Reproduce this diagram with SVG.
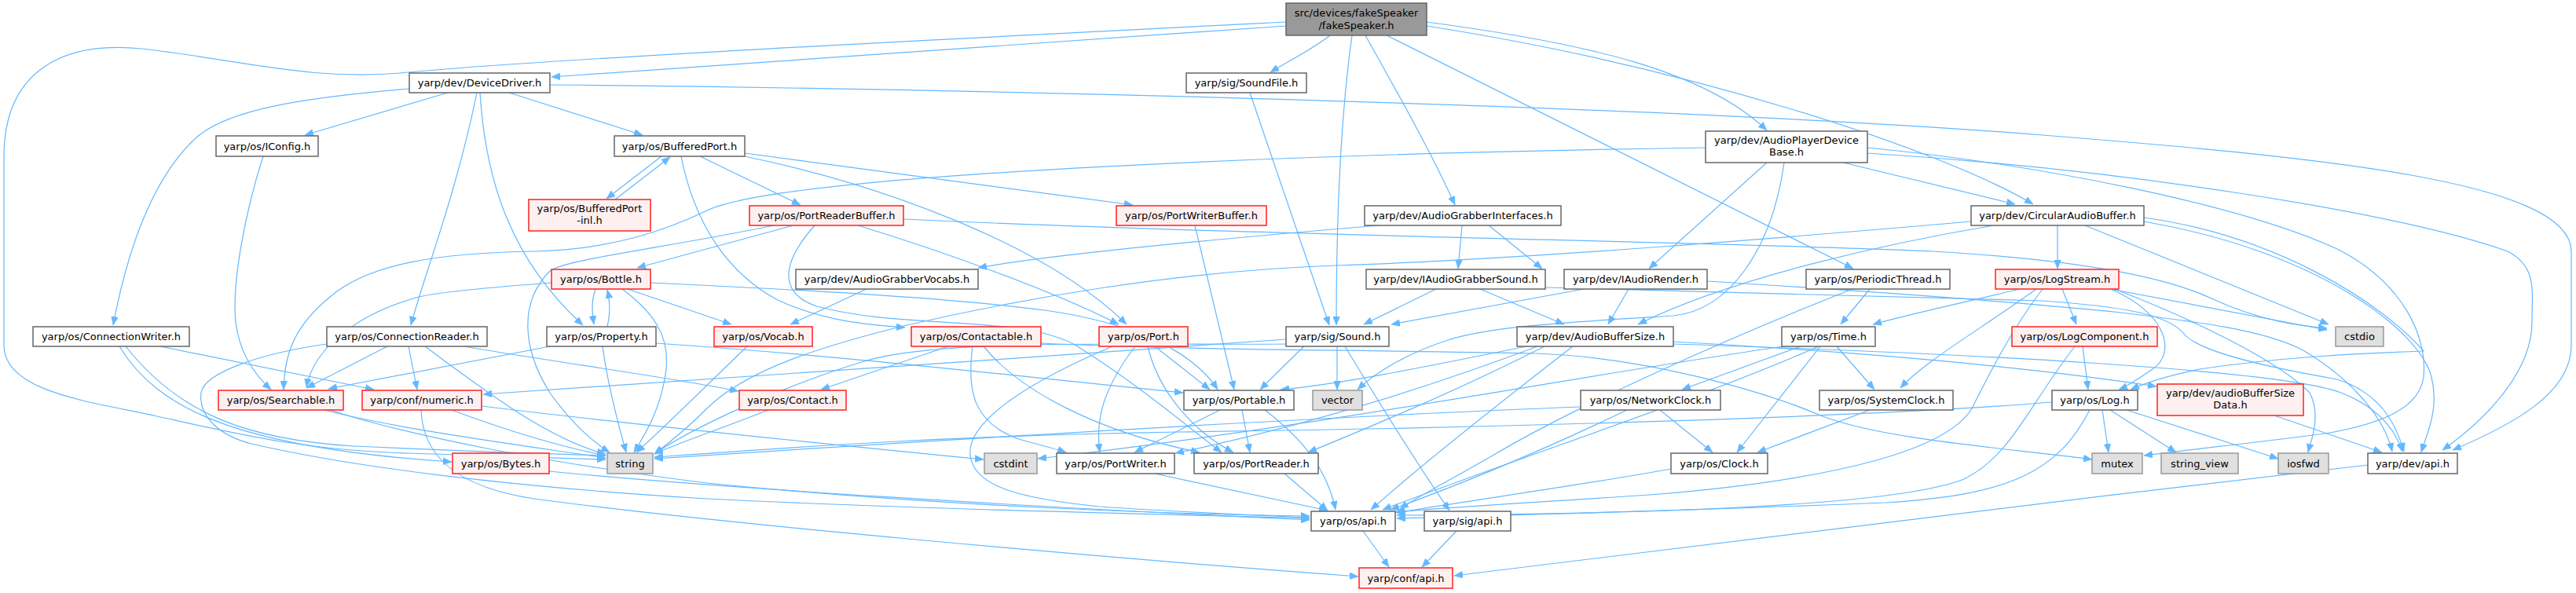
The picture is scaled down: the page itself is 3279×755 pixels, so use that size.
<svg xmlns="http://www.w3.org/2000/svg" width="3279" height="755" viewBox="0 0 3279 755">
<style>
.n rect{fill:#ffffff;stroke:#666666;stroke-width:1.5}
.r rect{fill:#fff0f0;stroke:#ff2020;stroke-width:1.5}
.g rect{fill:#e0e0e0;stroke:#999999;stroke-width:1.5}
.s rect{fill:#999999;stroke:#666666;stroke-width:1.5}
text{font-family:"DejaVu Sans","Liberation Sans",sans-serif;font-size:13px;fill:#000;text-anchor:middle}
#edges path{fill:none;stroke:#63b8ff;stroke-width:1.2;marker-end:url(#ah)}
</style>
<defs>
<marker id="ah" viewBox="0 0 11 9" refX="11" refY="4.5" markerWidth="11" markerHeight="9" markerUnits="userSpaceOnUse" orient="auto">
<path d="M0,0 L11,4.5 L0,9 z" fill="#63b8ff" stroke="#63b8ff" stroke-width="0.5"/>
</marker>
</defs>
<rect x="0" y="0" width="3279" height="755" fill="#ffffff"/>
<g id="edges">
<path d="M1637,33 L702,98"/>
<path d="M1693,45 C1670,63 1640,78 1617,92"/>
<path d="M1721,45 C1709,130 1701,250 1701,414"/>
<path d="M1738,45 C1780,120 1825,200 1852,261"/>
<path d="M1765,45 L2359,342"/>
<path d="M1816,28 C2020,55 2170,90 2249,166"/>
<path d="M1816,33 C2150,85 2470,190 2588,260"/>
<path d="M1637,28 C1200,50 700,75 520,92 C400,105 300,75 180,62 C80,52 5,90 5,200 L5,440 C5,500 120,512 200,530 C300,552 390,574 520,577 C620,580 700,582 771,585"/>
<path d="M570,118 L388,172"/>
<path d="M648,118 L818,172"/>
<path d="M521,113 C380,125 290,140 250,175 C190,230 160,330 144,414"/>
<path d="M607,118 C580,250 540,350 523,414"/>
<path d="M611,118 C618,230 650,330 742,414"/>
<path d="M700,108 C1400,115 2200,140 2600,172 C2950,200 3273,230 3273,320 L3273,440 C3273,500 3200,540 3122,573"/>
<path d="M1591,118 L1692,414"/>
<path d="M335,199 C312,270 295,360 300,410 C305,450 325,478 345,496"/>
<path d="M842,199 L772,253"/>
<path d="M891,199 L1019,261"/>
<path d="M948,195 L1442,261"/>
<path d="M948,199 C1120,235 1330,310 1434,413"/>
<path d="M867,199 C885,290 930,350 990,382 C1050,410 1110,414 1152,417"/>
<path d="M2171,188 C1700,195 1000,220 900,268 C850,292 780,318 680,320 C560,322 470,335 420,378 C375,415 362,450 361,496"/>
<path d="M2249,207 L2099,342"/>
<path d="M2271,207 C2255,320 2200,395 2130,402 C2000,410 1900,415 1843,433 C1790,450 1750,475 1728,496"/>
<path d="M2346,207 L2565,260"/>
<path d="M2377,195 C2700,215 3050,270 3192,320 C3230,340 3223,370 3223,410 C3223,470 3170,530 3109,573"/>
<path d="M2377,188 C2600,210 2850,260 2975,317 C3060,360 3090,430 3085,480 C3080,520 3030,540 2960,552 C2860,565 2790,572 2729,580"/>
<path d="M783,254 L853,200"/>
<path d="M1010,287 L811,341"/>
<path d="M985,287 C850,315 720,330 700,345 C660,385 665,445 700,500 C728,540 758,565 776,576"/>
<path d="M1092,287 C1200,320 1340,370 1424,413"/>
<path d="M1037,287 C990,340 995,375 1040,390 C1150,420 1300,400 1370,440 C1450,490 1520,550 1555,576"/>
<path d="M1150,279 C1600,300 2200,308 2460,320 C2600,328 2740,345 2815,380 C2880,410 2930,415 2962,418"/>
<path d="M1521,287 L1571,496"/>
<path d="M1755,287 C1600,300 1350,322 1245,341"/>
<path d="M1861,287 L1856,342"/>
<path d="M1895,287 L1963,342"/>
<path d="M2619,287 L2619,342"/>
<path d="M2538,287 C2400,310 2200,355 2085,413"/>
<path d="M2654,287 L2964,413"/>
<path d="M2729,277 C2895,300 3029,383 3085,447 C3000,450 2900,455 2800,470 C2760,478 2730,488 2712,496"/>
<path d="M2729,282 C2950,320 3080,420 3095,480 C3105,520 3090,550 3082,576"/>
<path d="M2509,282 C2300,300 1950,330 1700,338 C1500,345 1300,380 1150,415 C1050,440 950,470 900,520 C870,550 850,565 833,578"/>
<path d="M758,368 C752,385 754,400 756,413"/>
<path d="M792,368 C835,400 852,430 848,470 C842,520 820,555 807,576"/>
<path d="M799,368 L931,413"/>
<path d="M702,360 C620,366 560,372 533,378 C460,398 400,440 390,493"/>
<path d="M828,360 C1000,368 1200,378 1330,395 C1450,412 1520,450 1550,496"/>
<path d="M773,416 C777,400 777,385 773,369"/>
<path d="M767,441 C775,500 790,550 797,576"/>
<path d="M700,441 L418,495"/>
<path d="M835,437 C1100,455 1300,480 1506,500"/>
<path d="M204,441 L476,496"/>
<path d="M152,441 C200,520 300,570 575,588"/>
<path d="M160,441 C230,530 320,560 450,568 C600,575 700,578 771,580"/>
<path d="M493,441 L390,494"/>
<path d="M520,441 L531,496"/>
<path d="M541,441 C620,500 700,560 771,578"/>
<path d="M591,441 C700,460 850,480 940,498"/>
<path d="M416,438 C330,450 260,475 256,500 C252,530 280,555 320,565 C450,595 650,620 900,635 C1200,650 1500,655 1667,660"/>
<path d="M536,522 C538,580 580,620 680,635 C900,665 1400,710 1729,734"/>
<path d="M613,517 C800,540 1100,570 1252,585"/>
<path d="M575,522 C650,550 720,570 771,580"/>
<path d="M413,522 C500,545 650,565 771,583"/>
<path d="M420,522 C520,555 700,590 900,615 C1200,645 1500,655 1667,657"/>
<path d="M699,600 C900,620 1300,645 1667,662"/>
<path d="M951,441 C900,490 850,540 810,576"/>
<path d="M1103,368 L1006,413"/>
<path d="M978,522 C920,545 860,565 833,578"/>
<path d="M1207,441 L1045,496"/>
<path d="M1238,441 C1230,500 1240,540 1300,560 C1330,568 1345,572 1357,576"/>
<path d="M1252,441 C1300,500 1400,550 1527,576"/>
<path d="M1325,437 C1520,446 1720,445 1955,450 C2100,455 2250,500 2320,530 C2400,560 2550,570 2663,585"/>
<path d="M1470,441 L1540,496"/>
<path d="M1445,441 C1400,500 1395,540 1400,576"/>
<path d="M1461,441 C1475,500 1520,550 1570,576"/>
<path d="M1416,441 C1300,490 1230,540 1235,580 C1240,620 1300,635 1400,645 C1500,652 1600,656 1667,659"/>
<path d="M1553,522 L1444,576"/>
<path d="M1581,522 L1591,576"/>
<path d="M1610,522 C1660,560 1690,600 1700,649"/>
<path d="M1660,441 C1640,460 1620,480 1604,496"/>
<path d="M1702,441 L1702,496"/>
<path d="M1712,441 C1760,520 1810,600 1845,650"/>
<path d="M1637,432 C1300,455 900,485 615,502"/>
<path d="M1637,438 C1450,440 1200,430 1100,460 C1000,490 880,545 833,578"/>
<path d="M1828,368 L1736,413"/>
<path d="M1884,368 L1991,413"/>
<path d="M1967,366 C2200,372 2450,378 2600,383 C2700,390 2760,400 2780,425 C2800,450 2900,470 2975,483 C3030,500 3050,540 3060,575"/>
<path d="M2016,368 L1771,413"/>
<path d="M2073,368 L2047,413"/>
<path d="M2173,358 C2400,372 2600,388 2700,398 C2800,410 2880,420 2930,445 C2990,480 3035,530 3045,575"/>
<path d="M2380,368 L2343,413"/>
<path d="M2358,368 C2200,430 2000,520 1900,580 C1830,620 1800,635 1782,648"/>
<path d="M2625,368 L2643,413"/>
<path d="M2571,368 C2500,385 2430,400 2384,413"/>
<path d="M2592,368 C2520,420 2450,460 2419,494"/>
<path d="M2686,368 L2962,420"/>
<path d="M2687,368 C2760,400 2770,450 2740,470 C2725,480 2712,490 2697,496"/>
<path d="M2692,368 C2800,410 2900,460 2940,500 C2955,530 2942,560 2938,576"/>
<path d="M2600,368 C2560,420 2530,480 2510,520 C2480,570 2350,610 2100,630 C1950,640 1850,645 1776,652"/>
<path d="M2651,441 L2658,496"/>
<path d="M2641,441 C2580,520 2560,580 2500,610 C2400,650 2000,655 1778,656"/>
<path d="M2676,522 L2684,576"/>
<path d="M2686,522 L2770,576"/>
<path d="M2707,522 L2900,584"/>
<path d="M2660,522 C2620,600 2560,630 2400,640 C2100,652 1900,656 1778,660"/>
<path d="M2612,512 C2400,530 1900,545 1500,550 C1200,555 1000,570 833,582"/>
<path d="M2895,529 L3032,576"/>
<path d="M1943,441 C1800,470 1700,490 1630,496"/>
<path d="M1957,441 C1800,500 1650,545 1496,577"/>
<path d="M1966,441 C1850,500 1740,545 1665,576"/>
<path d="M2002,441 C1900,520 1800,600 1745,649"/>
<path d="M2130,435 C2400,450 2600,470 2745,492"/>
<path d="M2130,438 C2500,450 2900,470 2980,500 C3030,520 3050,550 3058,575"/>
<path d="M2292,441 L2141,496"/>
<path d="M2338,441 L2386,496"/>
<path d="M2317,441 L2211,576"/>
<path d="M2315,441 C2163,508 1954,575 1760,649"/>
<path d="M2270,441 C2000,480 1700,540 1321,584"/>
<path d="M2113,522 L2180,576"/>
<path d="M2071,522 C1950,580 1850,620 1770,649"/>
<path d="M2012,518 C1700,530 1200,560 833,584"/>
<path d="M2380,522 L2237,576"/>
<path d="M2127,597 C2000,620 1850,640 1778,653"/>
<path d="M1470,603 C1550,620 1640,640 1690,650"/>
<path d="M1635,603 L1690,650"/>
<path d="M1735,676 L1768,722"/>
<path d="M1854,676 L1810,722"/>
<path d="M3014,592 C2600,640 2100,700 1851,733"/>
</g>
<g id="n_src" class="s"><rect x="1637" y="4" width="179" height="41"/><text x="1726.5" y="21">src/devices/fakeSpeaker</text><text x="1726.5" y="37">/fakeSpeaker.h</text></g>
<g id="n_DeviceDriver" class="n"><rect x="521" y="93" width="179" height="25"/><text x="610.5" y="110">yarp/dev/DeviceDriver.h</text></g>
<g id="n_SoundFile" class="n"><rect x="1510" y="93" width="153" height="25"/><text x="1586.5" y="110">yarp/sig/SoundFile.h</text></g>
<g id="n_IConfig" class="n"><rect x="275" y="173" width="130" height="26"/><text x="340" y="190.5">yarp/os/IConfig.h</text></g>
<g id="n_BufferedPort" class="n"><rect x="782" y="173" width="166" height="26"/><text x="865" y="190.5">yarp/os/BufferedPort.h</text></g>
<g id="n_AudioPlayerDeviceBase" class="n"><rect x="2171" y="167" width="206" height="40"/><text x="2274" y="183">yarp/dev/AudioPlayerDevice</text><text x="2274" y="198">Base.h</text></g>
<g id="n_BufferedPortInl" class="r"><rect x="673" y="254" width="155" height="40"/><text x="750.5" y="270">yarp/os/BufferedPort</text><text x="750.5" y="285">-inl.h</text></g>
<g id="n_PortReaderBuffer" class="r"><rect x="954" y="262" width="196" height="25"/><text x="1052" y="279">yarp/os/PortReaderBuffer.h</text></g>
<g id="n_PortWriterBuffer" class="r"><rect x="1421" y="262" width="191" height="25"/><text x="1516.5" y="279">yarp/os/PortWriterBuffer.h</text></g>
<g id="n_AudioGrabberInterfaces" class="n"><rect x="1737" y="262" width="250" height="25"/><text x="1862" y="279">yarp/dev/AudioGrabberInterfaces.h</text></g>
<g id="n_CircularAudioBuffer" class="n"><rect x="2509" y="262" width="220" height="25"/><text x="2619" y="279">yarp/dev/CircularAudioBuffer.h</text></g>
<g id="n_Bottle" class="r"><rect x="702" y="343" width="126" height="25"/><text x="765" y="360">yarp/os/Bottle.h</text></g>
<g id="n_AudioGrabberVocabs" class="n"><rect x="1013" y="343" width="232" height="25"/><text x="1129" y="360">yarp/dev/AudioGrabberVocabs.h</text></g>
<g id="n_IAudioGrabberSound" class="n"><rect x="1739" y="343" width="228" height="25"/><text x="1853" y="360">yarp/dev/IAudioGrabberSound.h</text></g>
<g id="n_IAudioRender" class="n"><rect x="1991" y="343" width="182" height="25"/><text x="2082" y="360">yarp/dev/IAudioRender.h</text></g>
<g id="n_PeriodicThread" class="n"><rect x="2299" y="343" width="183" height="25"/><text x="2390.5" y="360">yarp/os/PeriodicThread.h</text></g>
<g id="n_LogStream" class="r"><rect x="2540" y="343" width="157" height="25"/><text x="2618.5" y="360">yarp/os/LogStream.h</text></g>
<g id="n_ConnectionWriter" class="n"><rect x="42" y="416" width="199" height="25"/><text x="141.5" y="433">yarp/os/ConnectionWriter.h</text></g>
<g id="n_ConnectionReader" class="n"><rect x="416" y="416" width="204" height="25"/><text x="518" y="433">yarp/os/ConnectionReader.h</text></g>
<g id="n_Property" class="n"><rect x="696" y="416" width="139" height="25"/><text x="765.5" y="433">yarp/os/Property.h</text></g>
<g id="n_Vocab" class="r"><rect x="909" y="416" width="125" height="25"/><text x="971.5" y="433">yarp/os/Vocab.h</text></g>
<g id="n_Contactable" class="r"><rect x="1160" y="416" width="165" height="25"/><text x="1242.5" y="433">yarp/os/Contactable.h</text></g>
<g id="n_Port" class="r"><rect x="1399" y="416" width="113" height="25"/><text x="1455.5" y="433">yarp/os/Port.h</text></g>
<g id="n_Sound" class="n"><rect x="1637" y="416" width="131" height="25"/><text x="1702.5" y="433">yarp/sig/Sound.h</text></g>
<g id="n_AudioBufferSize" class="n"><rect x="1931" y="416" width="199" height="25"/><text x="2030.5" y="433">yarp/dev/AudioBufferSize.h</text></g>
<g id="n_Time" class="n"><rect x="2268" y="416" width="119" height="25"/><text x="2327.5" y="433">yarp/os/Time.h</text></g>
<g id="n_LogComponent" class="r"><rect x="2561" y="416" width="185" height="25"/><text x="2653.5" y="433">yarp/os/LogComponent.h</text></g>
<g id="n_cstdio" class="g"><rect x="2973" y="416" width="61" height="25"/><text x="3003.5" y="433">cstdio</text></g>
<g id="n_Searchable" class="r"><rect x="278" y="497" width="159" height="25"/><text x="357.5" y="514">yarp/os/Searchable.h</text></g>
<g id="n_numeric" class="r"><rect x="461" y="497" width="152" height="25"/><text x="537" y="514">yarp/conf/numeric.h</text></g>
<g id="n_Contact" class="r"><rect x="941" y="497" width="136" height="25"/><text x="1009" y="514">yarp/os/Contact.h</text></g>
<g id="n_Portable" class="n"><rect x="1507" y="497" width="140" height="25"/><text x="1577" y="514">yarp/os/Portable.h</text></g>
<g id="n_vector" class="g"><rect x="1671" y="497" width="63" height="25"/><text x="1702.5" y="514">vector</text></g>
<g id="n_NetworkClock" class="n"><rect x="2012" y="497" width="178" height="25"/><text x="2101" y="514">yarp/os/NetworkClock.h</text></g>
<g id="n_SystemClock" class="n"><rect x="2316" y="497" width="170" height="25"/><text x="2401" y="514">yarp/os/SystemClock.h</text></g>
<g id="n_Log" class="n"><rect x="2612" y="497" width="109" height="25"/><text x="2666.5" y="514">yarp/os/Log.h</text></g>
<g id="n_audioBufferSizeData" class="r"><rect x="2746" y="489" width="186" height="40"/><text x="2839" y="505">yarp/dev/audioBufferSize</text><text x="2839" y="520">Data.h</text></g>
<g id="n_Bytes" class="r"><rect x="576" y="577" width="123" height="26"/><text x="637.5" y="594.5">yarp/os/Bytes.h</text></g>
<g id="n_string" class="g"><rect x="773" y="577" width="58" height="26"/><text x="802" y="594.5">string</text></g>
<g id="n_cstdint" class="g"><rect x="1253" y="577" width="67" height="26"/><text x="1286.5" y="594.5">cstdint</text></g>
<g id="n_PortWriter" class="n"><rect x="1345" y="577" width="150" height="26"/><text x="1420" y="594.5">yarp/os/PortWriter.h</text></g>
<g id="n_PortReader" class="n"><rect x="1520" y="577" width="158" height="26"/><text x="1599" y="594.5">yarp/os/PortReader.h</text></g>
<g id="n_Clock" class="n"><rect x="2127" y="577" width="123" height="26"/><text x="2188.5" y="594.5">yarp/os/Clock.h</text></g>
<g id="n_mutex" class="g"><rect x="2663" y="577" width="64" height="26"/><text x="2695" y="594.5">mutex</text></g>
<g id="n_string_view" class="g"><rect x="2751" y="577" width="98" height="26"/><text x="2800" y="594.5">string_view</text></g>
<g id="n_iosfwd" class="g"><rect x="2900" y="577" width="64" height="26"/><text x="2932" y="594.5">iosfwd</text></g>
<g id="n_dev_api" class="n"><rect x="3014" y="577" width="114" height="26"/><text x="3071" y="594.5">yarp/dev/api.h</text></g>
<g id="n_os_api" class="n"><rect x="1669" y="651" width="107" height="25"/><text x="1722.5" y="668">yarp/os/api.h</text></g>
<g id="n_sig_api" class="n"><rect x="1813" y="651" width="110" height="25"/><text x="1868" y="668">yarp/sig/api.h</text></g>
<g id="n_conf_api" class="r"><rect x="1730" y="723" width="119" height="26"/><text x="1789.5" y="740.5">yarp/conf/api.h</text></g>
</svg>
